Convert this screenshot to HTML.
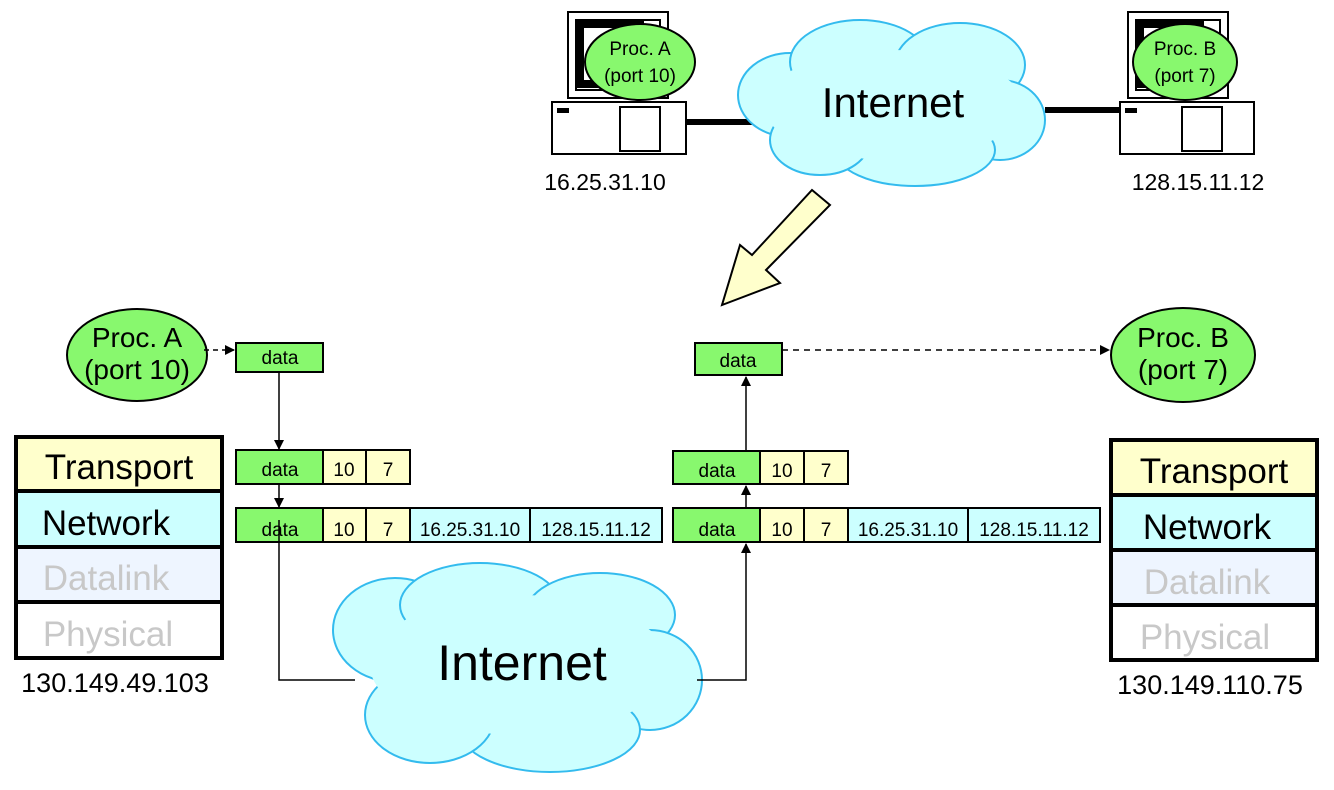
<!DOCTYPE html>
<html><head><style>body{margin:0;background:#fff}svg{display:block}text{font-family:"Liberation Sans",Arial,sans-serif}</style></head>
<body>
<svg width="1334" height="790" viewBox="0 0 1334 790" xmlns="http://www.w3.org/2000/svg">
<defs>
<marker id="ah" markerWidth="10" markerHeight="10" refX="9" refY="5" orient="auto" markerUnits="userSpaceOnUse"><path d="M0,0 L10,5 L0,10 z" fill="#000"/></marker>
</defs>
<g stroke="#000" stroke-width="2" fill="#fff">
<rect x="568" y="12" width="100" height="86"/>
<rect x="576" y="20" width="84" height="70" fill="#fff"/>
<rect x="580" y="24" width="60" height="60" fill="none" stroke-width="8"/>
<rect x="552" y="102" width="134" height="52"/>
<rect x="620" y="107" width="40" height="44"/>
<rect x="1128" y="12" width="100" height="86"/>
<rect x="1136" y="20" width="84" height="70"/>
<rect x="1140" y="24" width="60" height="60" fill="none" stroke-width="8"/>
<rect x="1120" y="102" width="134" height="52"/>
<rect x="1182" y="107" width="40" height="44"/>
</g>
<rect x="557" y="108" width="12" height="5"/><rect x="1125" y="108" width="12" height="5"/>
<line x1="686" y1="122" x2="752" y2="122" stroke="#000" stroke-width="6"/>
<line x1="1045" y1="110" x2="1120" y2="110" stroke="#000" stroke-width="6"/>
<ellipse cx="640" cy="62" rx="55" ry="38" fill="#88f86e" stroke="#000" stroke-width="2"/>
<text x="640" y="55" font-size="19" text-anchor="middle">Proc. A</text>
<text x="640" y="82" font-size="19" text-anchor="middle">(port 10)</text>
<ellipse cx="1185" cy="62" rx="52" ry="38" fill="#88f86e" stroke="#000" stroke-width="2"/>
<text x="1185" y="55" font-size="19" text-anchor="middle">Proc. B</text>
<text x="1185" y="82" font-size="19" text-anchor="middle">(port 7)</text>
<text x="605" y="190" font-size="23" text-anchor="middle">16.25.31.10</text>
<text x="1198" y="190" font-size="23" text-anchor="middle">128.15.11.12</text>
<g fill="#ccffff" stroke="#33bbee" stroke-width="2">
<ellipse cx="790" cy="95" rx="52" ry="42"/><ellipse cx="860" cy="62" rx="70" ry="42"/><ellipse cx="960" cy="65" rx="65" ry="42"/><ellipse cx="1000" cy="120" rx="45" ry="40"/><ellipse cx="915" cy="150" rx="80" ry="36"/><ellipse cx="820" cy="140" rx="50" ry="35"/>
</g>
<g fill="#ccffff"><ellipse cx="893" cy="105" rx="130" ry="55"/></g>
<text x="893" y="117" font-size="42" text-anchor="middle">Internet</text>
<path d="M830,205 L812,190 L752,255 L740,245 L722,305 L780,283 L766,270 Z" fill="#ffffcc" stroke="#000" stroke-width="2"/>
<g fill="#ccffff" stroke="#33bbee" stroke-width="2">
<ellipse cx="395" cy="630" rx="62" ry="52"/><ellipse cx="480" cy="605" rx="80" ry="42"/><ellipse cx="600" cy="615" rx="75" ry="42"/><ellipse cx="650" cy="680" rx="52" ry="50"/><ellipse cx="550" cy="730" rx="90" ry="42"/><ellipse cx="430" cy="715" rx="65" ry="48"/>
</g>
<ellipse cx="520" cy="665" rx="150" ry="70" fill="#ccffff"/>
<text x="522" y="680" font-size="50" text-anchor="middle">Internet</text>
<ellipse cx="137" cy="355" rx="70" ry="46" fill="#88f86e" stroke="#000" stroke-width="2"/>
<text x="137" y="347" font-size="28" text-anchor="middle">Proc. A</text>
<text x="137" y="379" font-size="28" text-anchor="middle">(port 10)</text>
<ellipse cx="1183" cy="355" rx="72" ry="47" fill="#88f86e" stroke="#000" stroke-width="2"/>
<text x="1183" y="347" font-size="28" text-anchor="middle">Proc. B</text>
<text x="1183" y="379" font-size="28" text-anchor="middle">(port 7)</text>
<g stroke="#000" stroke-width="4">
<rect x="16" y="437" width="206" height="54" fill="#ffffcc"/>
<rect x="16" y="491" width="206" height="56" fill="#ccffff"/>
<rect x="16" y="547" width="206" height="55" fill="#eef5ff"/>
<rect x="16" y="602" width="206" height="56" fill="#fff"/>
<rect x="1111" y="440" width="206" height="55" fill="#ffffcc"/>
<rect x="1111" y="495" width="206" height="55" fill="#ccffff"/>
<rect x="1111" y="550" width="206" height="55" fill="#eef5ff"/>
<rect x="1111" y="605" width="206" height="55" fill="#fff"/>
</g>
<g font-size="35" text-anchor="middle">
<text x="119" y="479">Transport</text><text x="106" y="535">Network</text>
<text x="106" y="590" fill="#c8c8c8">Datalink</text><text x="108" y="646" fill="#c8c8c8">Physical</text>
<text x="1214" y="483">Transport</text><text x="1207" y="539">Network</text>
<text x="1207" y="594" fill="#c8c8c8">Datalink</text><text x="1205" y="649" fill="#c8c8c8">Physical</text>
</g>
<text x="115" y="692" font-size="27" text-anchor="middle">130.149.49.103</text>
<text x="1210" y="694" font-size="27" text-anchor="middle">130.149.110.75</text>
<g stroke="#000" stroke-width="2">
<rect x="236" y="343" width="87" height="29" fill="#88f86e"/>
<rect x="236" y="450" width="87" height="34" fill="#88f86e"/><rect x="323" y="450" width="43" height="34" fill="#ffffcc"/><rect x="366" y="450" width="44" height="34" fill="#ffffcc"/>
<rect x="236" y="508" width="87" height="34" fill="#88f86e"/><rect x="323" y="508" width="43" height="34" fill="#ffffcc"/><rect x="366" y="508" width="44" height="34" fill="#ffffcc"/><rect x="410" y="508" width="120" height="34" fill="#ccffff"/><rect x="530" y="508" width="132" height="34" fill="#ccffff"/>
<rect x="695" y="343" width="87" height="32" fill="#88f86e"/>
<rect x="673" y="451" width="87" height="33" fill="#88f86e"/><rect x="760" y="451" width="44" height="33" fill="#ffffcc"/><rect x="804" y="451" width="44" height="33" fill="#ffffcc"/>
<rect x="673" y="508" width="87" height="34" fill="#88f86e"/><rect x="760" y="508" width="44" height="34" fill="#ffffcc"/><rect x="804" y="508" width="44" height="34" fill="#ffffcc"/><rect x="848" y="508" width="120" height="34" fill="#ccffff"/><rect x="968" y="508" width="132" height="34" fill="#ccffff"/>
</g>
<g font-size="19" text-anchor="middle">
<text x="280" y="364">data</text>
<text x="280" y="476">data</text><text x="344" y="476">10</text><text x="388" y="476">7</text>
<text x="280" y="536">data</text><text x="344" y="536">10</text><text x="388" y="536">7</text><text x="470" y="536">16.25.31.10</text><text x="596" y="536">128.15.11.12</text>
<text x="738" y="367">data</text>
<text x="717" y="477">data</text><text x="782" y="477">10</text><text x="826" y="477">7</text>
<text x="717" y="536">data</text><text x="782" y="536">10</text><text x="826" y="536">7</text><text x="908" y="536">16.25.31.10</text><text x="1034" y="536">128.15.11.12</text>
</g>
<g stroke="#000" stroke-width="1.5" fill="none">
<line x1="279" y1="372" x2="279" y2="449" marker-end="url(#ah)"/>
<line x1="279" y1="484" x2="279" y2="507" marker-end="url(#ah)"/>
<polyline points="279,520 279,680 355,680"/>
<polyline points="697,680 746,680 746,544" marker-end="url(#ah)"/>
<line x1="746" y1="508" x2="746" y2="486" marker-end="url(#ah)"/>
<line x1="746" y1="451" x2="746" y2="377" marker-end="url(#ah)"/>
<line x1="204" y1="350" x2="234" y2="350" stroke-dasharray="5,4" marker-end="url(#ah)"/>
<line x1="782" y1="350" x2="1109" y2="350" stroke-dasharray="6,5" marker-end="url(#ah)"/>
</g>
</svg>
</body></html>
